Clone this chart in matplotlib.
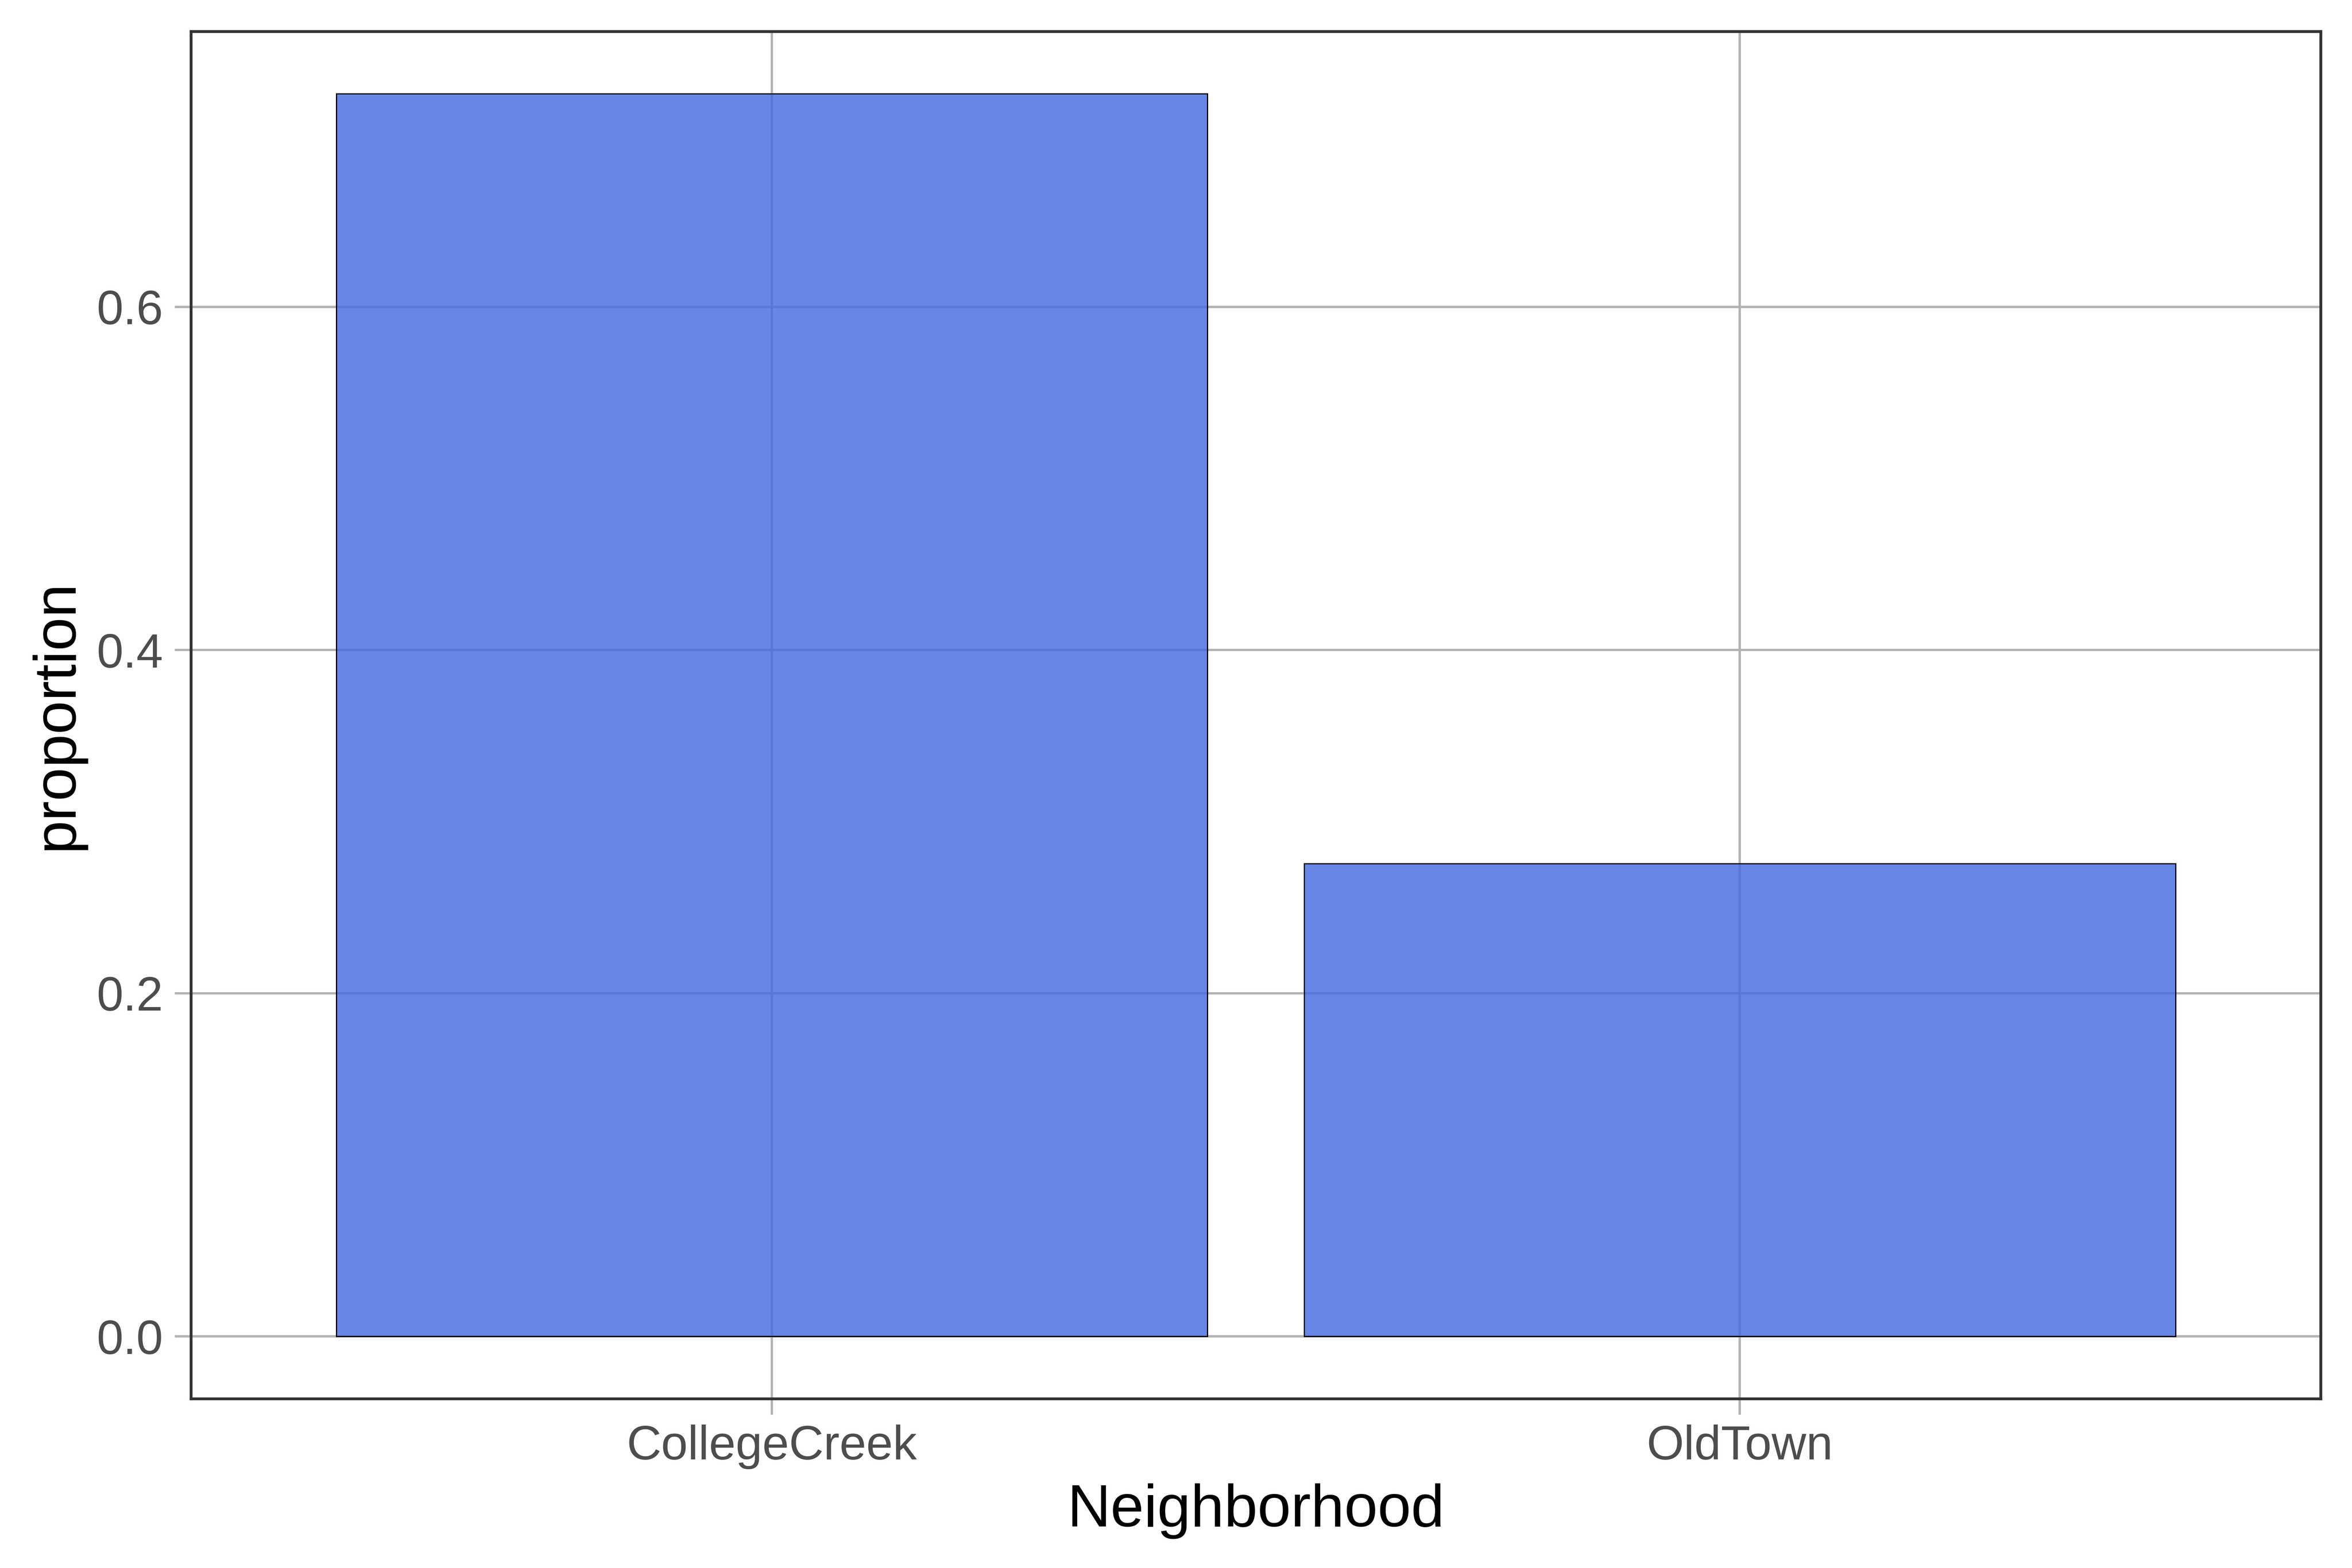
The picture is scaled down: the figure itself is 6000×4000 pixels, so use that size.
import numpy as np
import matplotlib
matplotlib.use('Agg')
from matplotlib import pyplot as plt

neighborhoods = ['CollegeCreek', 'OldTown']
proportion = [0.7243, 0.2755]

plt.rcParams['font.family'] = ['Liberation Sans', 'DejaVu Sans']

fig, ax = plt.subplots(figsize=(15, 10), dpi=400)
fig.subplots_adjust(left=0.0812, right=0.9867, bottom=0.108, top=0.98)

x = np.arange(1, len(neighborhoods) + 1)
ax.bar(x, proportion, width=0.9, facecolor=(65/255, 105/255, 225/255, 0.8),
       edgecolor='black', linewidth=0.55, zorder=2)

# ggplot-style expansion
ymax = max(proportion)
ax.set_ylim(-0.05 * ymax, 1.05 * ymax)
ax.set_xlim(0.4, len(neighborhoods) + 0.6)

ax.set_xticks(x)
ax.set_xticklabels(neighborhoods)
ax.set_yticks([0.0, 0.2, 0.4, 0.6])
ax.set_yticklabels(['0.0', '0.2', '0.4', '0.6'])

ax.set_axisbelow(True)
ax.grid(True, color='#b3b3b3', linewidth=1.08, zorder=0)

for s in ax.spines.values():
    s.set_color('#333333')
    s.set_linewidth(1.3)
    s.set_zorder(3)

ax.tick_params(axis='both', colors='#b3b3b3', width=1.08, length=7.3,
               labelcolor='#4d4d4d', labelsize=22)
ax.tick_params(axis='x', pad=4.5)
ax.tick_params(axis='y', pad=5.5)

ax.set_xlabel('Neighborhood', fontsize=27.6, color='black', labelpad=6.5)
ax.set_ylabel('proportion', fontsize=27.6, color='black', labelpad=5.5)

fig.savefig('out.png', dpi=400, facecolor='white')
